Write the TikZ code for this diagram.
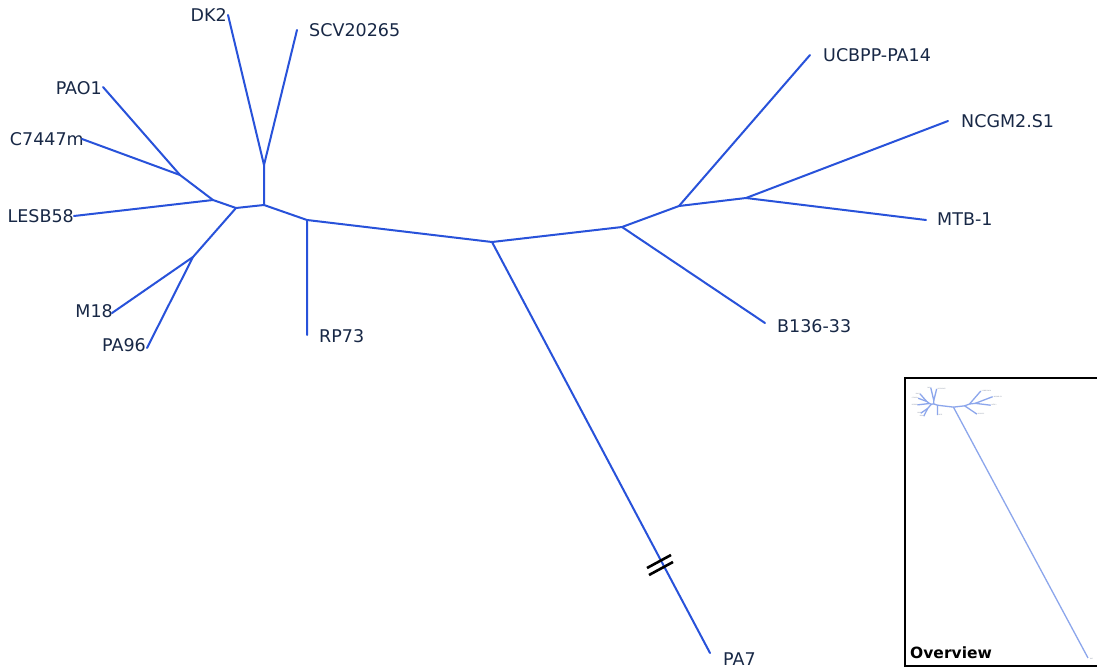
\documentclass[tikz,border=0pt]{standalone}
\usepackage{fontspec}
\setmainfont{DejaVu Sans}
\usetikzlibrary{calc}
\definecolor{br}{RGB}{40,82,218}
\definecolor{lbl}{RGB}{24,40,70}
\definecolor{ovbr}{RGB}{140,166,236}
\definecolor{ovlbl}{RGB}{120,130,150}
\tikzset{
  edge/.style={draw=br, line width=2pt, line join=round, line cap=round},
  ovedge/.style={draw=ovbr, line width=1.3pt, line join=round},
  lblR/.style={anchor=west, inner sep=0pt, text=lbl, font=\fontsize{17.5}{21}\selectfont},
  lblL/.style={anchor=east, inner sep=0pt, text=lbl, font=\fontsize{17.5}{21}\selectfont},
  brk/.style={draw=black, line width=2.6pt},
}
% #1 edge style, #2 PA7 tip, #3 PA7 label position
\newcommand\drawphylo[3]{%
  \coordinate (dkscv) at (264,165);
  \coordinate (j1) at (264,205);
  \coordinate (j2) at (236,208);
  \coordinate (j3) at (213,200);
  \coordinate (j4) at (180,175);
  \coordinate (j5) at (193,257);
  \coordinate (rp) at (307,220);
  \coordinate (c) at (492,242);
  \coordinate (r1) at (622,227);
  \coordinate (r2) at (679,206);
  \coordinate (r3) at (746,198);
  \coordinate (dk2) at (228,15);
  \coordinate (scv) at (297,30);
  \coordinate (pao1) at (103,87);
  \coordinate (c7447) at (82,139);
  \coordinate (lesb) at (74,216);
  \coordinate (m18) at (112,313);
  \coordinate (pa96) at (147,348);
  \coordinate (rp73) at (307,335);
  \coordinate (ucb) at (810,55);
  \coordinate (ncgm) at (948,121);
  \coordinate (mtb) at (926,220);
  \coordinate (b136) at (765,323);
  \coordinate (pa7) at #2;
  \node[lblL] (tDK2) at (227,15) {DK2};
  \node[lblR] (tSCV) at (309,30) {SCV20265};
  \node[lblL] (tPAO1) at (102,88) {PAO1};
  \node[lblL] (tC7447) at (84,139) {C7447m};
  \node[lblL] (tLESB) at (74,216) {LESB58};
  \node[lblL] (tM18) at (113,311) {M18};
  \node[lblL] (tPA96) at (146,345) {PA96};
  \node[lblR] (tRP73) at (319,336) {RP73};
  \node[lblR] (tUCB) at (823,55) {UCBPP-PA14};
  \node[lblR] (tNCGM) at (961,121) {NCGM2.S1};
  \node[lblR] (tMTB) at (937,219) {MTB-1};
  \node[lblR] (tB136) at (777,326) {B136-33};
  \node[lblR] (tPA7) at #3 {PA7};
  \draw[#1] (dk2) -- (dkscv) -- (scv);
  \draw[#1] (dkscv) -- (j1) -- (j2) -- (j3) -- (j4) -- (pao1);
  \draw[#1] (j4) -- (c7447);
  \draw[#1] (j3) -- (lesb);
  \draw[#1] (j2) -- (j5) -- (m18);
  \draw[#1] (j5) -- (pa96);
  \draw[#1] (j1) -- (rp) -- (rp73);
  \draw[#1] (rp) -- (c) -- (r1) -- (b136);
  \draw[#1] (r1) -- (r2) -- (ucb);
  \draw[#1] (r2) -- (r3) -- (ncgm);
  \draw[#1] (r3) -- (mtb);
  \draw[#1] (c) -- (pa7);
}
\begin{document}
\begin{tikzpicture}[x=1pt, y=-1pt]
\useasboundingbox (0,0) rectangle (1097,669);
\fill[white] (0,0) rectangle (1097,669);
% main tree
\drawphylo{edge}{(710,653)}{(723,659)}
% break mark on PA7 branch
\coordinate (bk1a) at (647,568);
\coordinate (bk1b) at (671,555);
\coordinate (bk2a) at (649,575);
\coordinate (bk2b) at (673,562);
\draw[brk] (bk1a) -- (bk1b);
\draw[brk] (bk2a) -- (bk2b);
% overview box
\node[draw=black, line width=2.2pt, fill=white, anchor=north west, minimum width=200pt, minimum height=288pt, inner sep=0pt] (ovbox) at (904,377) {};
\begin{scope}
  \clip (906,379) rectangle (1097,663);
  \begin{scope}[shift={(911.1,386.3)}, scale=0.086, transform shape, name prefix=ov-,
      lblR/.append style={text=ovlbl}, lblL/.append style={text=ovlbl}]
    \drawphylo{ovedge}{(2057,3159)}{(2080,3170)}
  \end{scope}
\end{scope}
\node[anchor=base west, inner sep=0pt, font=\fontsize{15.5}{18}\bfseries\selectfont] (ovlabel) at (910,658) {Overview};
\end{tikzpicture}
\end{document}
